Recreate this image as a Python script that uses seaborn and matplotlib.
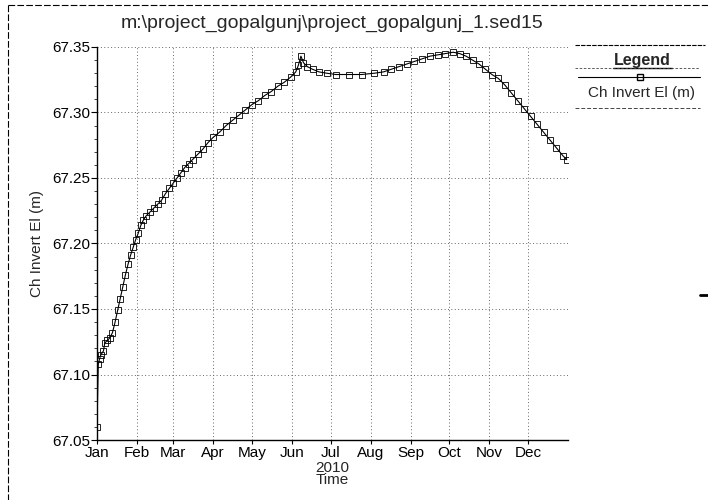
import matplotlib
matplotlib.use("Agg")
import matplotlib.pyplot as plt
import matplotlib.dates as mdates
from matplotlib.lines import Line2D
from matplotlib.ticker import MultipleLocator, FormatStrFormatter
import numpy as np
import pandas as pd
import seaborn as sns

# Channel invert elevation, day of year 2010 -> elevation (m)
day_of_year = [0, 1, 2, 3, 5, 6, 8, 10, 12, 14, 16, 18, 20, 22, 24, 26, 28, 30,
               32, 34, 36, 38, 41, 44, 47, 50, 53, 56, 59, 62, 65, 68, 71, 74,
               78, 82, 86, 90, 95, 100, 105, 110, 115, 120, 125, 130, 135, 140,
               145, 150, 154, 156, 158, 160, 163, 167, 172, 178, 185, 195, 205,
               215, 222, 228, 234, 240, 246, 252, 258, 264, 270, 276, 281, 286,
               291, 296, 301, 306, 311, 316, 321, 326, 331, 336, 341, 346, 351,
               356, 361, 364]
invert_el = [67.060, 67.108, 67.112, 67.115, 67.118, 67.124, 67.126, 67.128,
             67.132, 67.140, 67.149, 67.158, 67.167, 67.176, 67.184, 67.191,
             67.197, 67.203, 67.208, 67.214, 67.218, 67.221, 67.224, 67.227,
             67.230, 67.233, 67.238, 67.242, 67.246, 67.250, 67.254, 67.258,
             67.261, 67.264, 67.268, 67.272, 67.277, 67.281, 67.285, 67.290,
             67.294, 67.298, 67.302, 67.306, 67.309, 67.313, 67.316, 67.320,
             67.323, 67.327, 67.331, 67.336, 67.343, 67.338, 67.335, 67.333,
             67.331, 67.330, 67.329, 67.329, 67.329, 67.330, 67.331, 67.333,
             67.335, 67.337, 67.339, 67.341, 67.343, 67.344, 67.345, 67.346,
             67.345, 67.343, 67.340, 67.337, 67.333, 67.329, 67.326, 67.321,
             67.315, 67.309, 67.303, 67.297, 67.291, 67.285, 67.279, 67.273,
             67.267, 67.264]

title_text = r"m:\project_gopalgunj\project_gopalgunj_1.sed15"
series_name = "Ch Invert El (m)"
y_label = "Ch Invert El (m)"
x_label = "2010\nTime"

df = pd.DataFrame({
    "Time": pd.Timestamp("2010-01-01") + pd.to_timedelta(day_of_year, unit="D"),
    "Elev": invert_el,
})

sns.set_theme(style="white")
plt.rcParams["font.family"] = ["Liberation Sans", "DejaVu Sans"]

fig = plt.figure(figsize=(7.08, 5.00), dpi=100)
ax = fig.add_axes([97 / 708, 1 - 440 / 500, (568 - 97) / 708, (440 - 47) / 500])

sns.lineplot(data=df, x="Time", y="Elev", ax=ax, color="black", linewidth=0.8,
             marker="s", markersize=4.2, markerfacecolor="none",
             markeredgecolor="black", markeredgewidth=0.6)

ax.set_xlim(pd.Timestamp("2010-01-01"), pd.Timestamp("2010-12-31 23:00"))
ax.set_ylim(67.05, 67.35)

ax.xaxis.set_major_locator(mdates.MonthLocator())
ax.xaxis.set_major_formatter(mdates.DateFormatter("%b"))
ax.yaxis.set_major_locator(MultipleLocator(0.05))
ax.yaxis.set_minor_locator(MultipleLocator(0.01))
ax.yaxis.set_major_formatter(FormatStrFormatter("%.2f"))

ax.tick_params(axis="both", labelsize=11, colors="black", length=4, width=0.8,
               pad=1)
ax.tick_params(axis="y", which="minor", left=True, length=2, width=0.6)
ax.tick_params(axis="x", bottom=True, length=3)
ax.tick_params(axis="y", left=True)

ax.grid(True, which="major", color="#666666", linestyle=(0, (1, 2.5)),
        linewidth=0.7)

for side in ("top", "right"):
    ax.spines[side].set_visible(False)
for side in ("left", "bottom"):
    ax.spines[side].set_color("black")
    ax.spines[side].set_linewidth(1.0)

ax.set_xlabel(x_label, fontsize=11, labelpad=1, linespacing=0.85)
ax.set_ylabel(y_label, fontsize=11, labelpad=6)
ax.set_facecolor("white")

fig.text(332 / 708, 1 - 23 / 500, title_text, ha="center", va="center",
         fontsize=14)

# Legend panel on the right
def fig_line(x0, x1, y, **kw):
    fig.add_artist(Line2D([x0 / 708, x1 / 708], [1 - y / 500, 1 - y / 500],
                          transform=fig.transFigure, **kw))

fig_line(575, 705, 45, color="black", linewidth=0.8, linestyle=(0, (4, 1)))
fig.text(642 / 708, 1 - 61 / 500, "Legend", ha="center", va="center",
         fontsize=11.5, fontweight="bold")
fig_line(613, 672, 68, color="black", linewidth=1.0)
fig_line(575, 700, 68, color="#444444", linewidth=0.6, linestyle=(0, (3, 2)))
fig.add_artist(Line2D([578 / 708, 640 / 708, 700 / 708],
                      [1 - 77 / 500] * 3, transform=fig.transFigure,
                      color="black", linewidth=0.8, marker="s", markersize=4,
                      markerfacecolor="none", markevery=[1]))
fig.text(642 / 708, 1 - 93 / 500, series_name, ha="center", va="center",
         fontsize=11)
fig_line(575, 700, 108, color="#444444", linewidth=0.7, linestyle=(0, (4, 2)))

# Page frame lines
fig_line(8, 708, 5, color="black", linewidth=0.8, linestyle=(0, (6, 2)))
fig.add_artist(Line2D([8 / 708, 8 / 708], [1 - 5 / 500, 0],
                      transform=fig.transFigure, color="black",
                      linewidth=0.8, linestyle=(0, (6, 2))))
fig_line(700, 708, 295, color="black", linewidth=2.0)

fig.savefig("out.png", dpi=100, facecolor="white")
